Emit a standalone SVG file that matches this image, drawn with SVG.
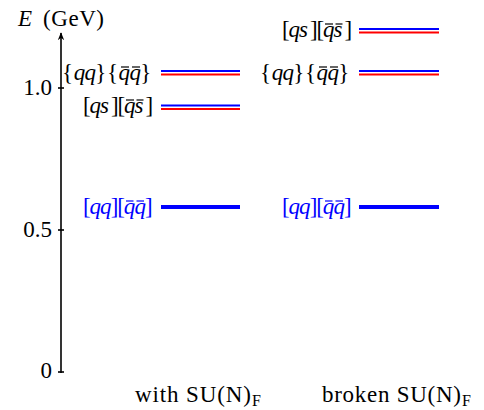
<svg xmlns="http://www.w3.org/2000/svg" width="484" height="410" viewBox="0 0 484 410">
<defs>
<style>
text{font-family:"Liberation Serif","DejaVu Serif",serif;font-size:23px;fill:#000}
.it{font-style:italic}
.bl{fill:#0000ff}
.ob{stroke:#000;stroke-width:1.2}
.obb{stroke:#0000ff;stroke-width:1.2}
.lb{stroke:#0000ff;stroke-width:2}
.lr{stroke:#ff0000;stroke-width:2}
.thick{stroke:#0000ff;stroke-width:4}
.ax{stroke:#000;stroke-width:1.6;fill:none}
.sub{font-size:16px}
</style>
<marker id="arr" viewBox="0 0 10 10" refX="9" refY="5" markerWidth="8" markerHeight="8" markerUnits="userSpaceOnUse" orient="auto">
<path d="M0,1 L10,5 L0,9 L3,5 Z" fill="#000"/>
</marker>
</defs>
<rect width="484" height="410" fill="#fff"/>

<g id="axis">
<line class="ax" x1="61" y1="373" x2="61" y2="33" marker-end="url(#arr)"/>
<line class="ax" x1="58" y1="372" x2="64" y2="372"/>
<line class="ax" x1="58" y1="230" x2="64" y2="230"/>
<line class="ax" x1="58" y1="88" x2="64" y2="88"/>
<text x="18" y="26" class="it">E</text>
<text x="43" y="26" textLength="61">(GeV)</text>
<text x="52" y="378" text-anchor="end">0</text>
<text x="52" y="237" text-anchor="end">0.5</text>
<text x="52" y="95" text-anchor="end">1.0</text>
</g>

<g id="left-qq-qq-curly">
<text y="80"><tspan x="62">{</tspan><tspan class="it" x="73.7 84.5">qq</tspan><tspan x="95.2 106.9">}{</tspan><tspan class="it" x="118.6 129.4">qq</tspan><tspan x="140.2">}</tspan></text>
<line class="ob" x1="121" y1="67" x2="129" y2="67"/>
<line class="ob" x1="132" y1="67" x2="140" y2="67"/>
<line class="lb" x1="161" y1="71" x2="240" y2="71"/>
<line class="lr" x1="161" y1="74.5" x2="240" y2="74.5"/>
</g>

<g id="left-qs-qs">
<text y="113"><tspan x="83">[</tspan><tspan class="it" x="89.5 100.1">qs</tspan><tspan x="111 117.5">][</tspan><tspan class="it" x="123.9 134.6">qs</tspan><tspan x="145.5">]</tspan></text>
<line class="ob" x1="126" y1="100" x2="134" y2="100"/>
<line class="ob" x1="136.5" y1="100" x2="143.5" y2="100"/>
<line class="lb" x1="161" y1="105.5" x2="240" y2="105.5"/>
<line class="lr" x1="161" y1="109" x2="240" y2="109"/>
</g>

<g id="left-qq-qq-square">
<text y="214" class="bl"><tspan x="83">[</tspan><tspan class="it" x="89.5 100.1">qq</tspan><tspan x="110.8 117.3">][</tspan><tspan class="it" x="123.7 134.4">qq</tspan><tspan x="145.1">]</tspan></text>
<line class="obb" x1="126" y1="201" x2="133.5" y2="201"/>
<line class="obb" x1="136.5" y1="201" x2="144" y2="201"/>
<line class="thick" x1="161" y1="207" x2="240" y2="207"/>
</g>

<g id="right-qs-qs">
<text y="37"><tspan x="282">[</tspan><tspan class="it" x="288.5 299.1">qs</tspan><tspan x="310 316.5">][</tspan><tspan class="it" x="322.9 333.6">qs</tspan><tspan x="344.5">]</tspan></text>
<line class="ob" x1="325" y1="24" x2="333" y2="24"/>
<line class="ob" x1="335.5" y1="24" x2="342.5" y2="24"/>
<line class="lb" x1="359" y1="29" x2="439" y2="29"/>
<line class="lr" x1="359" y1="32.5" x2="439" y2="32.5"/>
</g>

<g id="right-qq-qq-curly">
<text y="80"><tspan x="260">{</tspan><tspan class="it" x="271.7 282.5">qq</tspan><tspan x="293.2 304.9">}{</tspan><tspan class="it" x="316.6 327.4">qq</tspan><tspan x="338.2">}</tspan></text>
<line class="ob" x1="319" y1="67" x2="327" y2="67"/>
<line class="ob" x1="330" y1="67" x2="338" y2="67"/>
<line class="lb" x1="359" y1="71" x2="439" y2="71"/>
<line class="lr" x1="359" y1="74.5" x2="439" y2="74.5"/>
</g>

<g id="right-qq-qq-square">
<text y="214" class="bl"><tspan x="282">[</tspan><tspan class="it" x="288.5 299.1">qq</tspan><tspan x="309.8 316.3">][</tspan><tspan class="it" x="322.7 333.4">qq</tspan><tspan x="344.1">]</tspan></text>
<line class="obb" x1="325" y1="201" x2="332.5" y2="201"/>
<line class="obb" x1="335.5" y1="201" x2="343" y2="201"/>
<line class="thick" x1="359" y1="207" x2="439" y2="207"/>
</g>

<g id="labels">
<text x="135" y="402" textLength="116">with SU(N)</text>
<text x="252" y="406" class="sub">F</text>
<text x="322" y="402" textLength="139">broken SU(N)</text>
<text x="462" y="406" class="sub">F</text>
</g>
</svg>
